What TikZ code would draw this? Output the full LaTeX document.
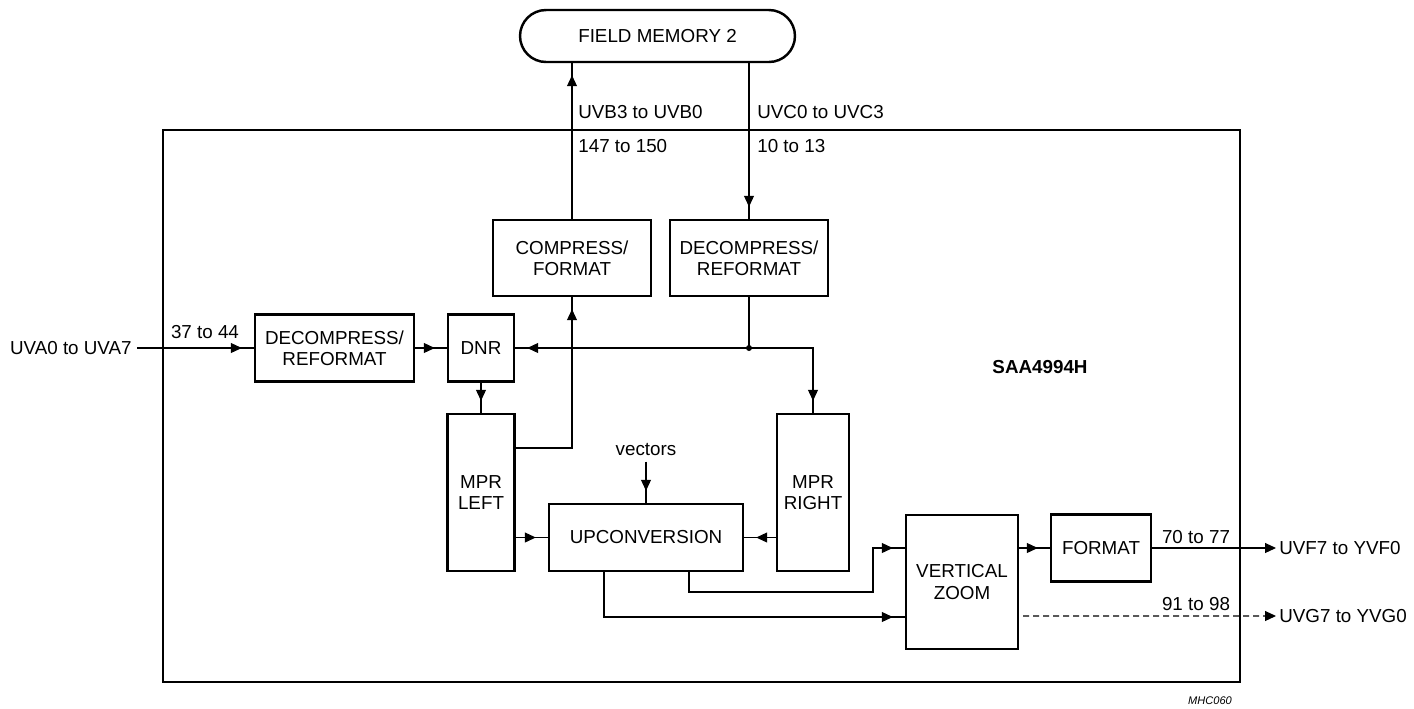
\documentclass[tikz,border=0pt]{standalone}
\usepackage{fontspec}
\setmainfont{Liberation Sans}
\usetikzlibrary{arrows.meta,decorations.markings}

\begin{document}
\begin{tikzpicture}[x=0.02cm, y=-0.02cm, line join=miter,
    font=\fontsize{10.7}{12}\selectfont,
    blk/.style={draw, line width=1.4pt, align=center, inner sep=0pt},
    wire/.style={line width=0.6pt},
    sig/.style={wire, postaction={decorate},
      decoration={markings, mark=at position -0.24cm with {\arrow{Triangle[length=0.22cm, width=0.2cm]}}}},
    outsig/.style={wire, -{Triangle[length=0.22cm, width=0.2cm]}},
    lbl/.style={inner sep=0pt}]
    \useasboundingbox (0,0) rectangle (1414,708);

    % 外框 (芯片)
    \draw[line width=1.4pt] (163,130) rectangle (1240,682);
    \node[lbl, font=\fontsize{10.7}{12}\selectfont\bfseries] (chip) at (1040,367) {SAA4994H};

    % 场存储器
    \node[blk, minimum width=5.5cm, minimum height=1.04cm, rounded corners=0.52cm] (fm) at (657.5,36) {FIELD MEMORY 2};

    % 各功能块
    \node[blk, minimum width=3.16cm, minimum height=1.52cm] (cmp) at (572,258) {COMPRESS/\\FORMAT};
    \node[blk, minimum width=3.16cm, minimum height=1.52cm] (dcm2) at (749,258) {DECOMPRESS/\\REFORMAT};
    \node[blk, minimum width=3.18cm, minimum height=1.34cm] (dcm1) at (334.5,348) {DECOMPRESS/\\REFORMAT};
    \node[blk, minimum width=1.32cm, minimum height=1.34cm] (dnr) at (481,348) {DNR};
    \node[blk, minimum width=1.34cm, minimum height=3.14cm] (mprl) at (481,492.5) {MPR\\LEFT};
    \node[blk, minimum width=3.88cm, minimum height=1.34cm] (upc) at (646,537.5) {UPCONVERSION};
    \node[blk, minimum width=1.44cm, minimum height=3.14cm] (mprr) at (813,492.5) {MPR\\RIGHT};
    \node[blk, minimum width=2.24cm, minimum height=2.68cm] (vz) at (962,582) {VERTICAL\\ZOOM};
    \node[blk, minimum width=2.0cm, minimum height=1.34cm] (fmt) at (1101,548) {FORMAT};

    % 外部信号及引脚标注
    \node[anchor=east, inner sep=0.1cm] (uva) at (137,348) {UVA0 to UVA7};
    \node[lbl] (pa) at (205,332) {37 to 44};
    \node[lbl, anchor=west] (sb) at (578,112) {UVB3 to UVB0};
    \node[lbl, anchor=west] (pb) at (578,146) {147 to 150};
    \node[lbl, anchor=west] (sc) at (757,112) {UVC0 to UVC3};
    \node[lbl, anchor=west] (pc) at (757,146) {10 to 13};
    \node[inner sep=0.1cm] (vec) at (646,450) {vectors};
    \node[anchor=west, inner sep=0.06cm] (uvf) at (1276,548) {UVF7 to YVF0};
    \node[anchor=west, inner sep=0.06cm] (uvg) at (1276,616) {UVG7 to YVG0};
    \node[lbl] (pf) at (1196,537) {70 to 77};
    \node[lbl] (pg) at (1196,604) {91 to 98};
    \node[lbl, font=\fontsize{6.3}{7}\selectfont\itshape] (code) at (1210,701) {MHC060};

    % 输入通路
    \draw[sig] (uva.east) -- (dcm1.west);
    \draw[sig] (dcm1.east) -- (dnr.west);
    \draw[sig] (dnr.south) -- (mprl.north);

    % 场存储器读写
    \draw[sig] ([yshift=0.89cm]mprl.east) -| (cmp.south);
    \draw[sig] (cmp.north) -- (fm.south -| cmp.north);
    \draw[sig] (fm.south -| dcm2.north) -- (dcm2.north);

    % 分支点
    \coordinate (j) at (dcm2.south |- dnr.east);
    \draw[wire] (dcm2.south) -- (j);
    \draw[sig] (j) -- (dnr.east);
    \draw[sig] (j) -| (mprr.north);
    \fill (j) circle (0.06cm);

    % 上变换
    \draw[sig] (vec.south) -- (upc.north);
    \draw[sig] (mprl.east |- upc.west) -- (upc.west);
    \draw[sig] (mprr.west |- upc.east) -- (upc.east);

    % 到垂直缩放
    \coordinate (bend) at (873,592);
    \draw[sig] ([xshift=0.86cm]upc.south) |- (bend) |- ([yshift=0.68cm]vz.west);
    \draw[sig] ([xshift=-0.84cm]upc.south) |- ([yshift=-0.7cm]vz.west);
    \draw[sig] (vz.east |- fmt.west) -- (fmt.west);

    % 输出
    \draw[outsig] (fmt.east) -- (uvf.west);
    \draw[outsig, dash pattern=on 0.12cm off 0.08cm] ([xshift=0.08cm, yshift=-0.68cm]vz.east) -- (uvg.west);
\end{tikzpicture}
\end{document}
